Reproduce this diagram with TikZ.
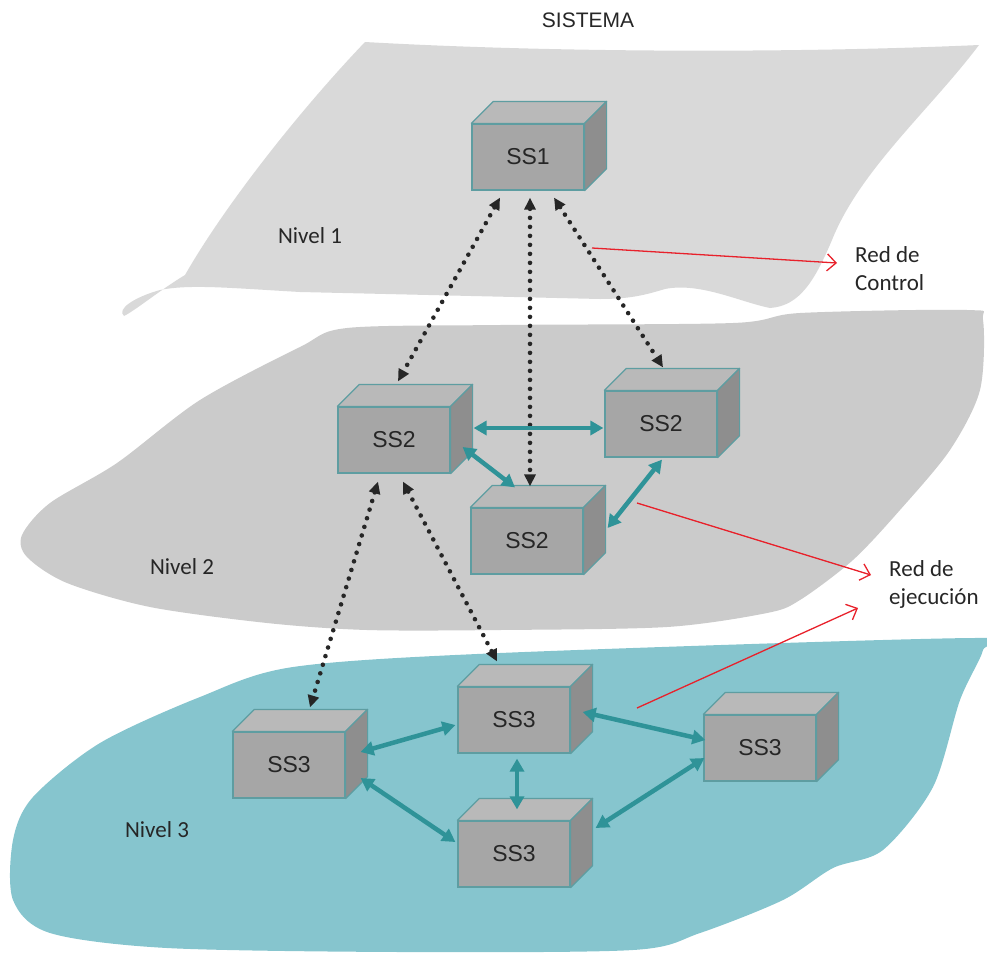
\documentclass[tikz,border=0pt]{standalone}
\usepackage{fontspec}
\setmainfont{Liberation Sans}
\newfontfamily\calfont{Carlito}
\definecolor{planeone}{HTML}{D9D9D9}
\definecolor{planetwo}{HTML}{CBCBCB}
\definecolor{planethree}{HTML}{86C5CE}
\definecolor{boxfront}{HTML}{A6A6A6}
\definecolor{boxtop}{HTML}{B9B9B9}
\definecolor{boxside}{HTML}{8E8E8E}
\definecolor{boxedge}{HTML}{5E9DA1}
\definecolor{link}{HTML}{2F9398}
\definecolor{redline}{HTML}{E8212B}
\usepackage{tikz}
\usetikzlibrary{arrows.meta}
\tikzset{
  cube/.style={
    rectangle, draw=boxedge, line width=1.2pt,
    fill=boxfront, text=black!85,
    font=\fontsize{23}{26}\selectfont,
    minimum width=112pt, minimum height=66pt, inner sep=0pt
  },
  cubetop/.style={fill=boxtop, draw=boxedge, line width=1.2pt, line join=round},
  cubeside/.style={fill=boxside, draw=boxedge, line width=1.2pt, line join=round},
  ctrlarr/.style={
    {Triangle[length=12pt,width=11pt]}-{Triangle[length=12pt,width=11pt]},
    black!85, line width=4.6pt, line cap=round,
    dash pattern=on 0pt off 9pt
  },
  execarr/.style={
    {Triangle[length=13pt,width=14pt]}-{Triangle[length=13pt,width=14pt]},
    link, line width=4.5pt
  },
  redarr/.style={-{Straight Barb[length=9pt,width=17pt]}, redline, line width=1.3pt},
  lvl/.style={font=\calfont\fontsize{23}{28}\selectfont, text=black!85},
  tag/.style={font=\calfont\fontsize{23}{28}\selectfont, text=black!85,
    align=left, anchor=west, inner sep=0pt},
}

\begin{document}
\begin{tikzpicture}[x=1pt, y=-1pt]
  \useasboundingbox (0,0) rectangle (987,953);

  % ── Depth of the boxes ────────────────────────────────────────────────────────
  \def\dep{22}

  % ── Planes ───────────────────────────────────────────────────────────────────
  \fill[planeone] (365,42) .. controls (560,53) and (800,53) .. (979,45)
    .. controls (930,110) and (860,170) .. (832,240)
    .. controls (815,280) and (800,306) .. (770,308)
    .. controls (740,302) and (700,282) .. (665,289)
    .. controls (645,295) and (630,299) .. (600,299)
    -- (300,292)
    .. controls (230,288) and (190,284) .. (160,290)
    .. controls (135,297) and (116,309) .. (124,316)
    .. controls (136,310) and (160,290) .. (185,275)
    .. controls (225,205) and (300,110) .. (365,42) -- cycle;
  \fill[planetwo] plot[smooth cycle, tension=0.5] coordinates {
    (347,328) (500,325) (733,323) (800,313) (967,310) (983,320) (980,390)
    (950,450) (900,510) (853,560) (800,600) (767,613) (667,627) (500,630)
    (367,630) (267,623) (150,607) (67,583) (27,557) (22,535) (50,503)
    (117,463) (200,400) (300,347)};
  \fill[planethree] plot[smooth cycle, tension=0.5] coordinates {
    (500,653) (973,638) (983,650) (960,700) (933,787) (883,850) (833,868)
    (783,900) (700,933) (633,950) (400,952) (167,948) (50,933) (13,900)
    (13,840) (33,797) (100,743) (200,697) (293,667)};

  % ── Titles ───────────────────────────────────────────────────────────────────
  \node[font=\fontsize{21}{24}\selectfont, text=black!85] (title) at (588,20) {SISTEMA};
  \node[lvl] (n1) at (310,236) {Nivel 1};
  \node[lvl] (n2) at (182,567) {Nivel 2};
  \node[lvl] (n3) at (157,830) {Nivel 3};
  \node[tag] (ctrl) at (855,269) {Red de\\Control};
  \node[tag] (ejec) at (889,584) {Red de\\ejecución};

  % ── Subsystems ───────────────────────────────────────────────────────────────
  \node[cube] (ss1)  at (528,157) {SS1};
  \node[cube] (ss2a) at (394,440) {SS2};
  \node[cube] (ss2b) at (661,424) {SS2};
  \node[cube] (ss2c) at (527,541) {SS2};
  \node[cube] (ss3a) at (289,765) {SS3};
  \node[cube] (ss3b) at (514,720) {SS3};
  \node[cube] (ss3c) at (760,748) {SS3};
  \node[cube] (ss3d) at (514,854) {SS3};

  \foreach \n in {ss1,ss2a,ss2b,ss2c,ss3a,ss3b,ss3c,ss3d} {
    \path[cubetop] (\n.north west) -- ++(\dep,-\dep)
      -- ([shift={(\dep,-\dep)}]\n.north east) -- (\n.north east) -- cycle;
    \path[cubeside] (\n.north east) -- ([shift={(\dep,-\dep)}]\n.north east)
      -- ([shift={(\dep,-\dep)}]\n.south east) -- (\n.south east) -- cycle;
  }

  % ── Control links (dotted) ───────────────────────────────────────────────────
  \draw[ctrlarr] ([shift={(-28,7)}]ss1.south) -- ([shift={(4,-25)}]ss2a.north);
  \draw[ctrlarr] ([shift={(2,7)}]ss1.south)   -- ([shift={(3,-21)}]ss2c.north);
  \draw[ctrlarr] ([shift={(26,7)}]ss1.south)  -- ([shift={(2,-23)}]ss2b.north);
  \draw[ctrlarr] ([shift={(-16,8)}]ss2a.south) -- ([shift={(21,-24)}]ss3a.north);
  \draw[ctrlarr] ([shift={(9,8)}]ss2a.south)   -- ([shift={(-17,-25)}]ss3b.north);

  % ── Execution links ──────────────────────────────────────────────────────────
  \draw[execarr] ([shift={(23,-12)}]ss2a.east) -- ([shift={(-1,4)}]ss2b.west);
  \draw[execarr] ([shift={(12,7)}]ss2a.east)   -- ([shift={(-12,-20)}]ss2c.north);
  \draw[execarr] ([shift={(24,-13)}]ss2c.east) -- ([shift={(1,2)}]ss2b.south);
  \draw[execarr] ([shift={(15,-13)}]ss3a.east) -- ([shift={(-2,5)}]ss3b.west);
  \draw[execarr] ([shift={(15,13)}]ss3a.east)  -- ([shift={(-2,-12)}]ss3d.west);
  \draw[execarr] ([shift={(3,5)}]ss3b.south)   -- ([shift={(3,-11)}]ss3d.north);
  \draw[execarr] ([shift={(12,-8)}]ss3b.east)  -- ([shift={(2,-8)}]ss3c.west);
  \draw[execarr] ([shift={(1,10)}]ss3c.west)   -- ([shift={(25,-26)}]ss3d.east);

  % ── Network labels ───────────────────────────────────────────────────────────
  \coordinate (c1) at (592,248);
  \coordinate (c2) at (637,503);
  \coordinate (c3) at (637,708);
  \draw[redarr] (c1) -- ([shift={(-18,-6)}]ctrl.west);
  \draw[redarr] (c2) -- ([shift={(-18,-9)}]ejec.west);
  \draw[redarr] (c3) -- ([shift={(-31,24)}]ejec.west);

\end{tikzpicture}
\end{document}
